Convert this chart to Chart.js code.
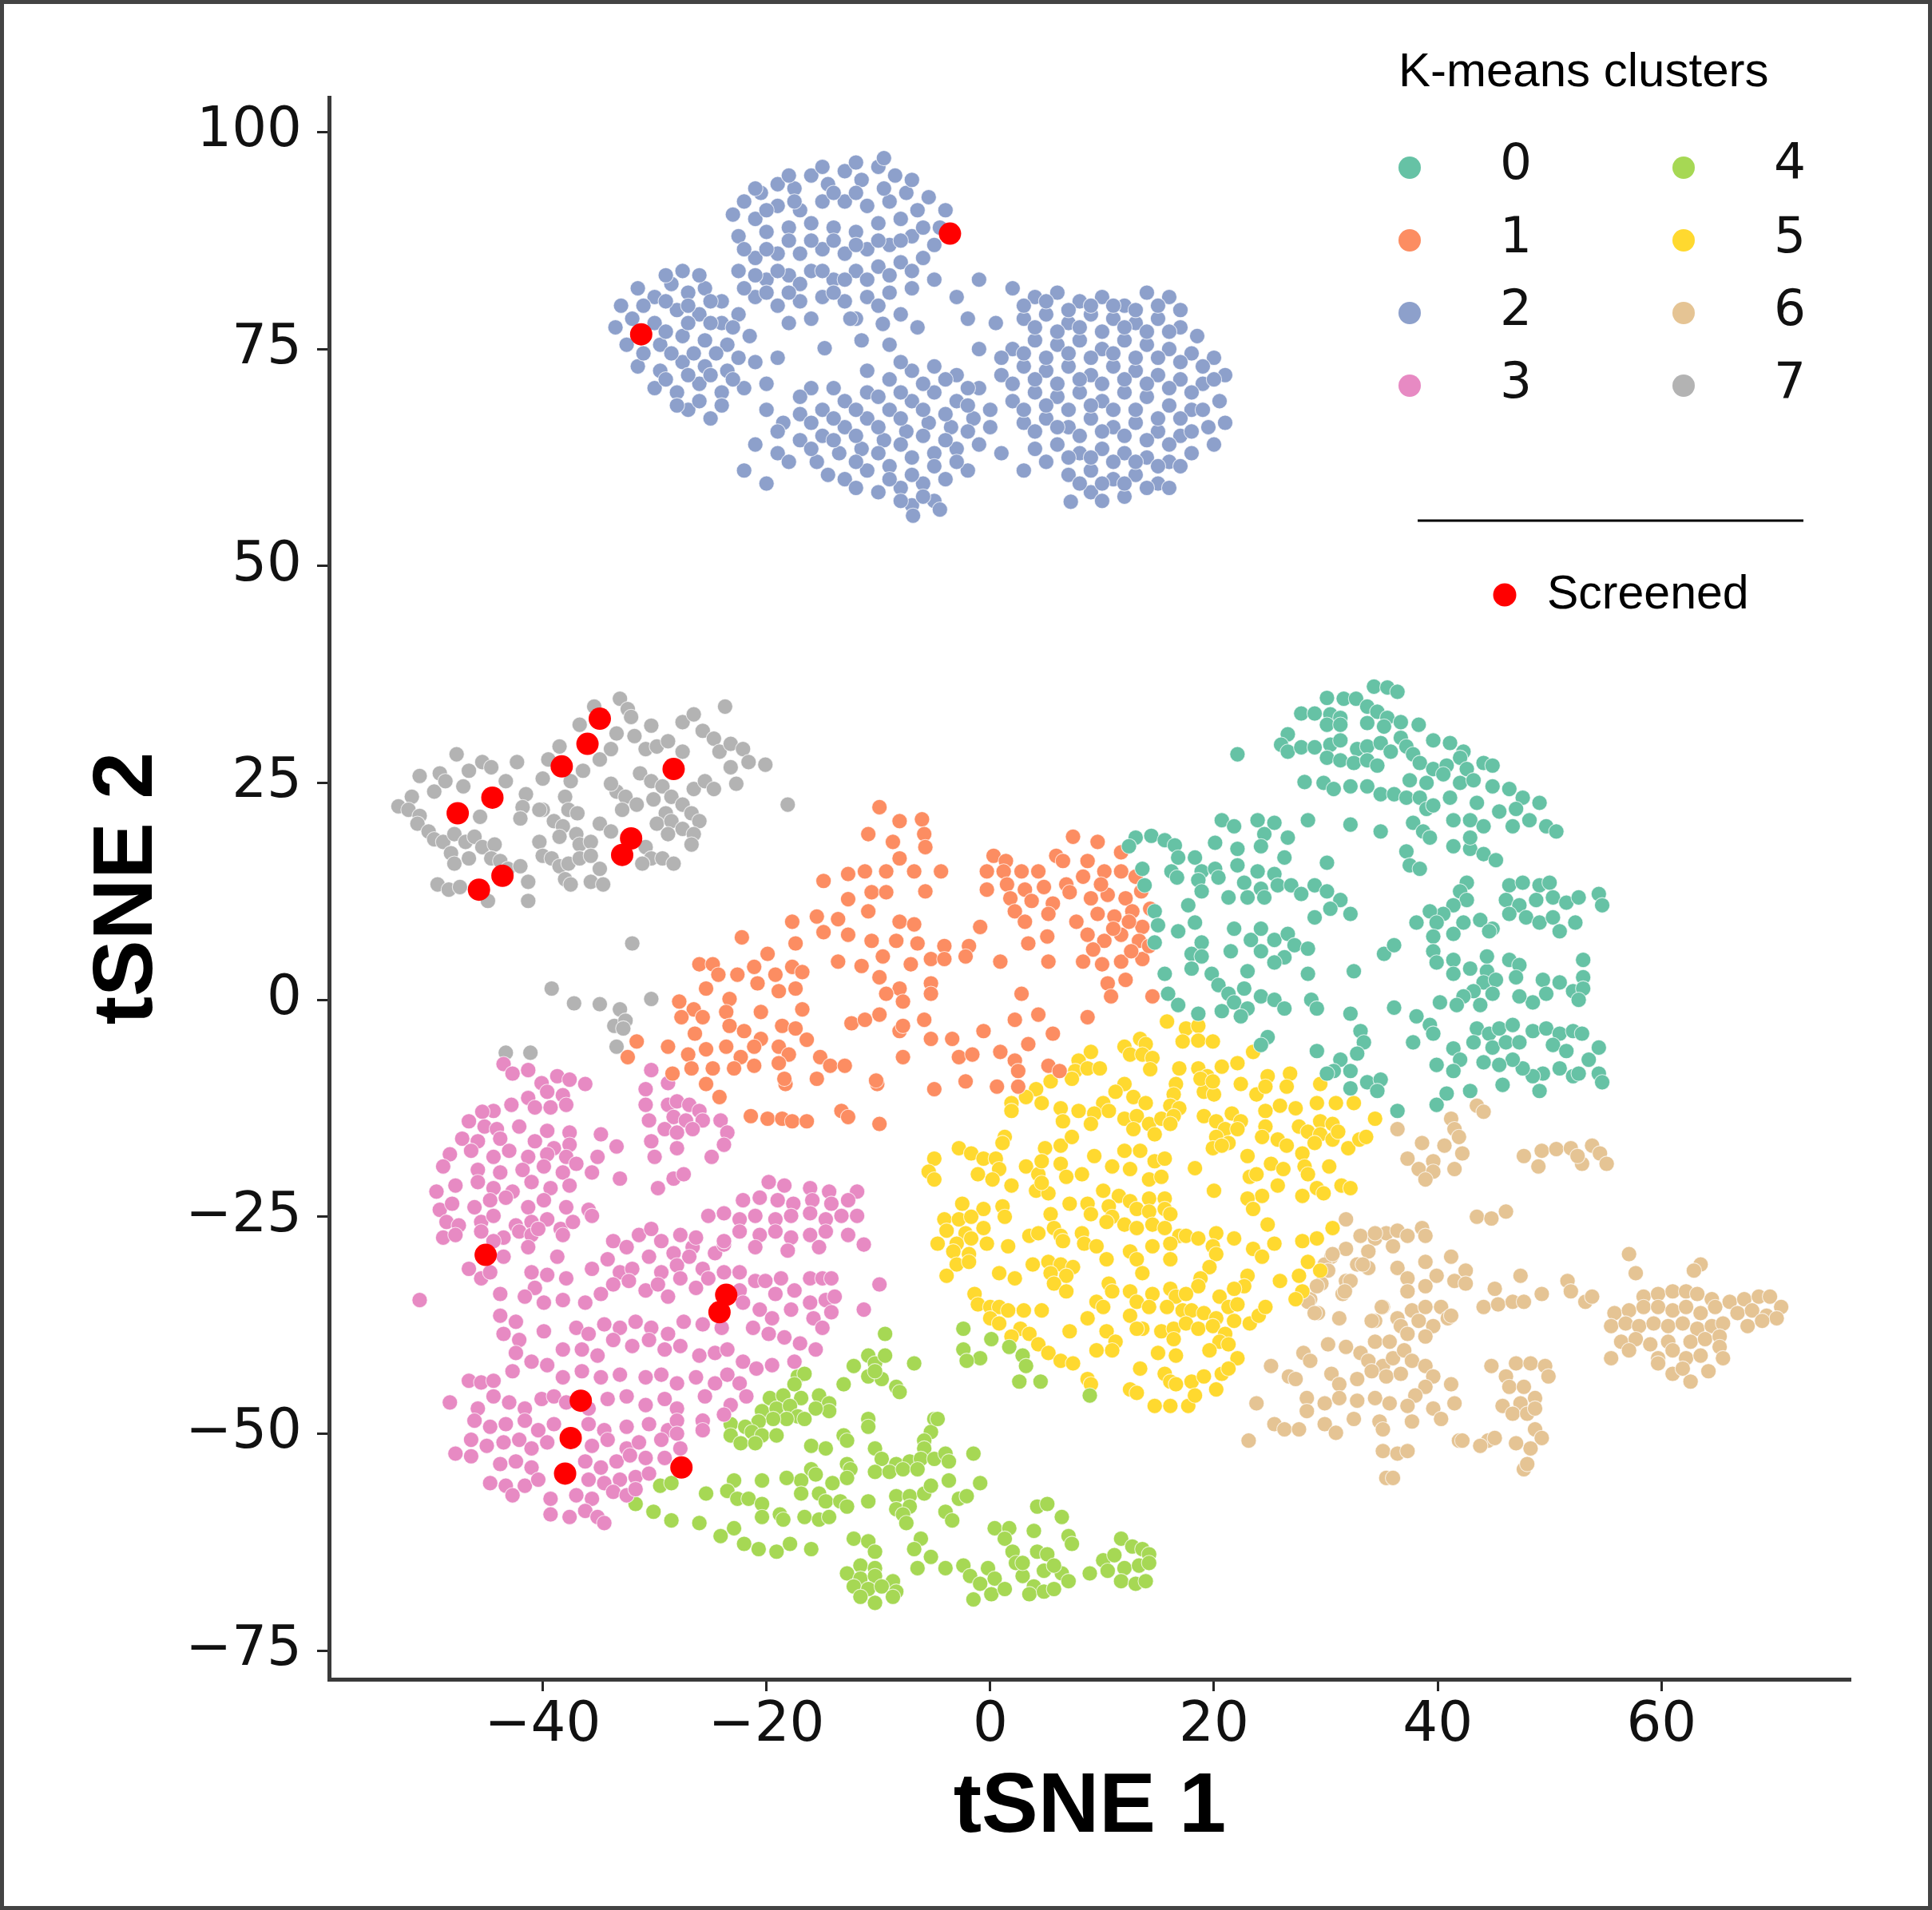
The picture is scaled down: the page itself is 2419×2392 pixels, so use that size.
<!DOCTYPE html>
<html>
<head>
<meta charset="utf-8">
<script src="https://cdn.jsdelivr.net/npm/chart.js@4.4.0/dist/chart.umd.min.js"></script>
<style>
  html, body { margin: 0; padding: 0; background: #fff; }
  canvas { display: block; }
</style>
</head>
<body>
<canvas id="tsneChart" width="2419" height="2392" style="width:2419px;height:2392px"></canvas>
<script>
// K-means cluster labels, tick values and axis limits
const clusterNames = ['0', '1', '2', '3', '4', '5', '6', '7'];
const xTicks = [-40, -20, 0, 20, 40, 60];
const yTicks = [-75, -50, -25, 0, 25, 50, 75, 100];
const xLimits = [-59.1, 76.9];
const yLimits = [-78.3, 104.0];

// tSNE coordinates per cluster, [tSNE 1, tSNE 2]
const cluster0 = [
  [34.3,36.1],[35.5,36.0],[36.4,35.5],[30.1,34.8],[31.6,34.7],[32.7,34.7],[27.8,33.0],[29.0,33.0],[30.4,32.9],[31.3,32.5],
  [33.7,33.8],[34.6,33.2],[35.5,32.5],[33.7,31.9],[35.2,31.5],[36.7,32.0],[38.3,31.7],[30.1,31.7],[31.3,31.7],[26.6,30.6],
  [26.0,29.4],[26.6,28.6],[27.8,29.1],[29.0,29.1],[30.4,29.4],[31.3,29.9],[32.8,28.9],[33.7,29.2],[34.9,29.6],[35.8,28.6],
  [36.7,30.2],[37.2,29.2],[37.8,28.3],[39.6,29.9],[41.1,29.6],[42.3,28.6],[22.1,28.3],[30.1,27.9],[31.3,27.6],[32.5,27.3],
  [33.7,27.6],[34.6,27.0],[38.4,27.3],[39.6,26.6],[40.8,27.0],[42.0,27.9],[42.6,26.6],[44.1,27.3],[44.9,27.0],[28.1,25.1],
  [29.8,25.0],[30.7,24.3],[32.2,24.6],[33.7,24.6],[34.9,23.7],[36.1,23.7],[37.5,25.3],[39.0,25.0],[40.5,26.0],[42.0,25.0],
  [43.2,25.3],[44.9,24.6],[46.4,24.3],[47.6,23.3],[49.1,22.7],[37.2,23.3],[38.4,23.3],[39.0,22.0],[39.6,22.4],[41.1,23.3],
  [43.5,22.7],[45.5,21.7],[47.0,22.0],[48.2,20.7],[37.8,20.4],[38.7,19.4],[39.3,18.7],[41.4,20.7],[42.9,20.7],[44.1,20.0],
  [46.7,20.0],[49.7,20.0],[50.6,19.4],[37.2,17.1],[37.5,15.5],[38.4,15.1],[41.4,17.7],[42.9,17.4],[42.9,18.7],[44.1,16.8],
  [45.2,16.1],[42.6,13.5],[42.0,12.5],[42.6,11.5],[41.4,10.9],[46.4,13.2],[47.6,13.5],[49.1,13.2],[50.0,13.5],[46.1,11.5],
  [47.3,10.9],[48.8,11.5],[50.3,11.8],[51.5,11.2],[52.6,11.8],[54.4,12.2],[54.7,10.9],[47.9,9.5],[49.1,8.9],[50.3,9.5],
  [50.9,7.9],[52.3,8.9],[46.4,9.9],[44.9,8.2],[43.8,9.2],[44.6,7.9],[42.3,8.9],[41.4,7.6],[40.5,9.9],[39.3,10.2],
  [38.1,8.9],[39.9,8.9],
  [13.0,18.7],[14.4,18.9],[15.6,18.4],[16.5,17.8],[16.8,16.4],[12.4,17.7],[13.6,15.1],[13.8,13.2],[16.2,14.8],[16.7,14.1],
  [20.7,20.7],[21.8,20.0],[20.1,18.1],[22.1,17.4],[22.1,15.5],[23.9,20.7],[25.4,20.4],[26.6,18.7],[24.5,19.1],[24.2,17.7],
  [26.3,16.4],[28.4,20.7],[32.2,20.2],[34.9,19.4],[30.1,15.8],[18.3,16.4],[18.9,14.8],[20.1,15.1],[18.6,13.8],[20.4,14.1],
  [18.9,12.5],[21.3,11.8],[22.7,13.5],[23.9,14.8],[25.4,14.5],[24.2,12.8],[23.0,11.8],[24.5,11.8],[25.7,13.2],[26.9,13.2],
  [27.8,12.2],[29.0,13.2],[30.1,12.5],[31.3,11.5],[32.2,9.9],[30.4,10.5],[29.0,9.5],[14.7,10.2],[15.0,8.6],[14.7,6.6],
  [17.7,10.9],[16.8,7.9],[18.3,8.9],[18.0,5.3],[18.9,6.6],[18.9,5.0],[18.0,3.6],[19.8,3.0],[20.4,1.7],[21.3,0.7],
  [21.8,8.2],[21.5,5.6],[23.3,6.9],[24.2,8.2],[25.4,6.9],[26.6,7.6],[27.2,6.3],[24.2,5.6],[26.3,4.9],[25.4,4.3],
  [28.4,5.9],[28.4,3.0],[32.5,3.3],[35.2,5.3],[36.1,6.3],[23.0,3.3],[22.7,1.3],[21.8,-0.3],[24.2,0.4],[23.0,-1.0],
  [25.4,0.0],[26.3,-1.0],[20.7,-1.3],[22.4,-1.9],[15.9,0.7],[16.8,-0.6],[18.6,-1.6],[15.6,3.0],[28.7,0.0],[29.2,-1.0],
  [39.6,7.3],[39.6,5.6],[39.9,4.3],[41.4,4.6],[41.4,3.0],[42.9,3.6],[44.4,3.3],[44.4,5.0],[46.4,4.6],[47.3,4.0],
  [47.0,2.6],[44.1,2.0],[45.2,2.3],[43.2,1.0],[44.9,0.7],[42.3,0.4],[41.7,-0.6],[43.8,-0.6],[49.4,2.3],[50.9,2.0],
  [52.1,1.0],[53.0,4.6],[53.0,2.6],[53.0,1.3],[52.6,0.0],[49.7,0.7],[48.5,-0.3],[47.3,0.4],[40.2,-0.3],[38.1,-1.9],
  [39.3,-2.9],[39.6,-3.9],[37.8,-4.9],[43.5,-3.3],[44.6,-3.9],[45.5,-3.3],[46.7,-2.9],[43.2,-4.9],[44.9,-5.5],[46.1,-4.9],
  [47.3,-4.9],[48.5,-3.6],[49.7,-3.3],[50.9,-3.9],[52.1,-3.6],[52.9,-3.9],[50.3,-5.2],[51.5,-5.9],[54.4,-5.5],[53.5,-6.9],
  [50.9,-7.9],[52.1,-8.8],[49.4,-8.5],[48.5,-8.8],[49.1,-10.5],[54.4,-8.5],[54.7,-9.5],[52.6,-8.5],[47.6,-7.9],[46.7,-6.9],
  [41.4,-5.6],[42.0,-6.9],[39.9,-7.5],[41.4,-8.2],[44.1,-7.2],[45.5,-7.5],[45.8,-9.8],[42.9,-10.5],[40.8,-10.8],[39.9,-12.1],
  [32.2,-1.6],[33.1,-3.6],[33.4,-4.9],[32.8,-6.2],[31.3,-6.9],[30.7,-8.2],[32.2,-8.2],[33.7,-9.5],[34.9,-9.2],[34.6,-10.5],
  [32.2,-10.2],[29.2,-5.9],[30.1,-8.5],[36.4,-12.8],[24.8,-4.3],[24.2,-5.2],[36.1,-0.9]
];

const cluster1 = [
  [-9.9,22.2],[-8.1,20.6],[-6.1,20.8],[-5.9,19.1],[-5.8,17.6],[-10.9,19.1],[-8.7,18.2],[-8.1,16.3],[-14.9,13.7],[-12.7,14.5],
  [-11.2,14.8],[-9.3,14.8],[-6.8,14.8],[-4.4,14.8],[-5.8,12.5],[-12.7,11.6],[-10.6,12.4],[-9.3,12.4],[-10.9,10.2],[-17.7,9.0],
  [-15.5,9.6],[-13.6,9.3],[-17.4,6.5],[-14.9,7.8],[-12.7,7.5],[-10.6,6.8],[-8.4,6.8],[-6.5,6.5],[-4.1,6.2],[-1.9,6.2],
  [-8.1,9.0],[-6.8,8.7],[-0.9,8.4],[-13.6,4.4],[-11.5,3.9],[-9.6,5.0],[-7.1,4.1],[-5.3,4.7],[-4.1,4.7],[-2.2,5.0],
  [0.9,4.4],[5.2,4.4],[3.4,6.5],[5.1,7.3],[-9.9,2.6],[-8.1,1.3],[-9.3,0.7],[-7.8,-0.2],[-5.3,1.9],[-5.3,0.7],
  [-26.0,4.1],[-24.8,4.1],[-24.3,2.9],[-22.6,2.9],[-21.1,3.8],[-19.9,5.3],[-19.2,2.9],[-17.7,3.8],[-16.8,3.2],[-22.2,7.2],
  [-25.4,1.3],[-23.3,0.1],[-20.8,1.9],[-18.9,1.0],[-17.4,1.3],[-27.8,-0.2],[-26.5,-1.1],[-23.6,-1.4],[-20.5,-1.4],[-16.8,-1.1],
  [-27.6,-2.0],[-25.7,-2.0],[-26.4,-3.9],[-23.3,-3.0],[-22.0,-3.6],[-20.5,-4.5],[-18.6,-3.0],[-17.4,-3.3],[-16.4,-4.6],[-31.6,-4.8],
  [-28.8,-5.4],[-27.0,-6.3],[-25.4,-5.7],[-23.6,-5.4],[-22.3,-6.6],[-21.1,-5.4],[-18.9,-5.4],[-18.0,-6.3],[-32.4,-6.6],[-26.7,-7.9],
  [-24.8,-7.9],[-22.9,-7.9],[-21.1,-7.6],[-18.9,-7.3],[-28.4,-8.5],[-25.4,-9.7],[-24.2,-11.2],[-18.3,-9.7],[-15.5,-9.1],[-15.2,-6.6],
  [-14.3,-7.6],[-13.0,-7.6],[-21.4,-13.4],[-19.9,-13.7],[-18.6,-13.7],[-17.7,-14.0],[-16.4,-14.0],[-13.3,-12.8],[-12.7,-13.5],[-9.9,-14.3],
  [-10.1,-9.7],[-12.4,-2.7],[-11.2,-2.3],[-9.9,-1.7],[-8.1,-3.6],[-7.8,-3.0],[-5.9,-2.3],[-5.3,-4.5],[-3.4,-4.5],[-7.8,-6.6],
  [-2.8,-6.6],[-1.6,-6.3],[-0.6,-3.6],[-5.0,-10.3],[-2.2,-9.4],[0.6,-10.0],[2.5,-10.0],[0.9,-6.0],[2.2,-7.0],[2.5,-8.2],
  [2.8,0.7],[2.2,-2.3],[4.3,-1.7],[3.4,-5.1],[5.6,-3.9],[5.2,-7.6],[6.2,-8.2],[8.7,-2.0],[-18.4,-9.1],[-10.2,-9.3],
  [7.4,18.8],[9.6,18.2],[0.3,16.6],[1.4,16.0],[5.9,16.6],[6.5,16.0],[8.7,16.0],[-0.3,14.8],[1.2,14.8],[2.8,14.8],
  [4.3,14.8],[-0.3,12.7],[1.5,13.3],[3.1,12.7],[4.8,13.0],[6.8,13.3],[8.3,14.2],[10.2,14.8],[11.7,14.8],[13.0,14.2],
  [1.8,11.7],[3.7,11.4],[5.6,11.1],[7.1,12.4],[9.0,11.7],[10.5,12.1],[12.1,11.7],[2.2,10.2],[3.1,9.0],[5.2,9.9],
  [7.7,9.0],[9.6,9.9],[11.1,9.6],[12.7,10.2],[13.6,8.4],[8.7,7.5],[10.2,6.8],[11.7,7.5],[13.3,6.8],[8.3,4.4],
  [10.0,4.1],[11.7,4.4],[13.6,4.7],[10.5,1.9],[12.1,2.3],[10.8,0.4],[14.5,0.4],[11.7,17.0],[13.5,12.5],[14.3,10.5],
  [9.2,5.8],[12.6,5.6],[11.0,8.2],[12.4,9.0],[9.9,13.3],[14.2,6.2]
];

const cluster2 = [
  [-22,92],[-20.5,93],[-19,94],[-17.5,93.5],[-16,95],[-14.5,94],[-13,95.5],[-11.5,94.5],[-10,96],[-8.5,95],
  [-7.5,93],[-9,92],[-11,91.5],[-13,92],[-15,92],[-17,91],[-19,91.5],[-21,90],[-22.5,88],[-20,88.5],
  [-18,89],[-16,89.5],[-14,89],[-12,88.5],[-10,89.5],[-8,90],[-6.5,91],[-7,88],[-9,87],[-11,86.5],
  [-13,86],[-15,86.5],[-17,86],[-19,86],[-21,85.5],[-22.5,84],[-20,83],[-18,83.5],[-16,84],[-14,83],
  [-12,84],[-10,84.5],[-8,85],[-6,85.5],[-5,83],[-7,82],[-9,81.5],[-11,81],[-13,80.5],[-15,81],
  [-17,80.5],[-19,80],[-21,81],[-16,78.5],[-18,78],[-12,78.5],[-4.5,89],[-4,91],[-5,87],[-8,79],
  [-6.5,77.5],[-3,81],[-2,78.5],[-9,75.5],[-11.5,76],
  [-21,93.5],[-18,95],[-15,96],[-12,96.5],[-9.5,97],[-20,91],[-17.5,92],[-14,93],[-12,93],[-9.5,93.5],
  [-7,94.5],[-22,86.5],[-20,86.5],[-18,87.5],[-16,87.5],[-14,87.5],[-12,87],[-10,87.5],[-8,87.5],[-6,89],
  [-21,83.5],[-19,84],[-17,82.5],[-15,84],[-13,83],[-11,83],[-9,83.5],[-7,84],[-20,81.5],[-18,81.5],
  [-14,81.5],[-10,80],[-22,82],[-23,90.5],[-5.5,92.5],
  [-33,80],[-31.5,82],[-30,81],[-28.5,82.5],[-27,81.5],[-25.5,82],[-24,80.5],[-32,78.5],[-30,78],[-28,79.5],
  [-26,79],[-24,78],[-22.5,79],[-32.5,75.5],[-29.5,75.5],[-27.5,76.5],[-25.5,76],[-23.5,75.5],[-21.5,76.5],[-31.5,73],
  [-29.5,72.5],[-27.5,73.5],[-25.5,73],[-23.5,72.5],[-21,73.5],[-30,70.5],[-28,70],[-26,71],[-24,70],[-22,70.5],
  [-27,68],[-25,67],[-20,71],[-19,74],[-27.5,84],
  [-31,80],[-29,80.5],[-27,80],[-25,80.5],[-31,76.5],[-29,77],[-27,78],[-25,78],[-23,77.5],[-31,74.5],
  [-28.5,74.5],[-26.5,74.5],[-24.5,74.5],[-22.5,74],[-29,71.5],[-27,72],[-25,72],[-23,71.5],[-26,69],[-28,68.5],
  [-24,68.5],[-33.5,77.5],[-26,83.5],[-29,83.5],
  [-20,68],[-18.5,66.5],[-17,67.5],[-15,68],[-13,69],[-11,70],[-9,71.5],[-7,72.5],[-5,73],[-3,72],
  [-21,64],[-19,63],[-17,64.5],[-15,65],[-13,66],[-11,67],[-9,68],[-7,69],[-5,70],[-3,69],
  [-1,70.5],[-15.5,62],[-13.5,63],[-11.5,63.5],[-9.5,64.5],[-7.5,65.5],[-5.5,66.5],[-3.5,66],[-1.5,67],[-13,60],
  [-11,61],[-9,61.5],[-7,62.5],[-5,63],[-3,63.5],[-1,64],[-10,58.5],[-8,59],[-6,59.5],[-4,60],
  [-7,57],[-5,57.5],[-2,61],[-22,61],[-20,59.5],[0,66],[1,63],[-16,70.5],[-6.9,55.8],[-4.5,56.5],
  [-14.8,75.1],[-12.5,78.5],[-9.6,77.9],
  [-19,65.5],[-16,66.5],[-14,67],[-12,68],[-10,69.5],[-8,70],[-6,71],[-4,71.5],[-2,70.5],[-18,62],
  [-16,63.5],[-14,64.5],[-12,65],[-10,66],[-8,67],[-6,68],[-4,67.5],[-2,68.5],[0,68],[-14.5,60.5],
  [-12,62],[-10,63],[-8,64],[-6,65],[-4,64.5],[-2,65.5],[-12,59],[-9,60],[-7,60.5],[-5,61.5],
  [-3,62],[-8,57.5],[-6,58],[-17,69.5],[-14,70.5],[-11,72.5],[-8,73.5],
  [2,82],[4,81],[6,81.5],[8,80.5],[10,81],[12,80],[14,81.5],[16,81],[3,78.5],[5,79],
  [7,78],[9,79],[11,78.5],[13,78],[15,78.5],[17,77.5],[18.5,76.5],[2,75],[4,76],[6,75.5],
  [8,76],[10,75],[12,76],[14,75.5],[16,75],[18,74.5],[20,74],[21,72],[1,72],[3,73],
  [5,72.5],[7,73],[9,72],[11,73],[13,72.5],[15,72],[17,71.5],[19,71],[20.5,69],[2,69],
  [4,70],[6,69.5],[8,70],[10,69],[12,70],[14,69.5],[16,68.5],[18,68],[19.5,66],[3,66.5],
  [5,67],[7,66],[9,67],[11,66],[13,66.5],[15,65.5],[17,65],[4,63.5],[6,64],[8,63],
  [10,63.5],[12,63],[14,62.5],[16,62],[18,63],[7,60.5],[9,61],[11,60],[13,60.5],[15,59.5],
  [9,58.5],[12,58],[20,64],[21,66.5],[3,61],[-1,75],[0.5,78],[16,59],[7.2,57.4],[-1,83],
  [3,80],[5,80.5],[7,79.5],[9,80],[11,80],[13,79.5],[15,80],[17,79.5],[4,77.5],[6,77],
  [8,77.5],[10,77],[12,77.5],[14,77],[16,77],[1,74],[3,74.5],[5,74],[7,74.5],[9,74],
  [11,74.5],[13,74],[15,74],[17,73.5],[19,73],[2,71],[4,71.5],[6,71],[8,71.5],[10,71],
  [12,71.5],[14,71],[16,70.5],[18,70],[20,71.5],[3,68],[5,68.5],[7,68],[9,68.5],[11,68],
  [13,68],[15,67],[17,67],[19,68],[4,65.5],[6,66],[8,65],[10,65.5],[12,65],[14,64.5],
  [16,64],[18,65.5],[5,62],[7,62.5],[9,62.5],[11,62],[13,62],[15,61.5],[17,61.5],[8,59.5],
  [10,59.5],[12,59.5],[14,59],[10,57.5]
];

const cluster3 = [
  [-43.5,-7.4],[-42.7,-8.5],[-41.3,-8.1],[-40.1,-9.6],[-38.7,-8.8],[-37.6,-9.2],[-36.2,-9.7],
  [-39.6,-10.6],[-38.2,-11.0],[-41.3,-11.3],[-42.8,-12.1],[-44.4,-12.8],[-45.4,-12.9],[-40.7,-12.4],[-39.3,-12.4],[-37.9,-12.1],
  [-46.6,-14.0],[-45.2,-14.6],[-44.1,-14.9],[-42.1,-14.6],[-39.6,-15.1],[-37.6,-15.3],
  [-47.2,-16.0],[-45.8,-16.3],[-43.8,-16.0],[-40.7,-16.3],[-39.0,-17.1],[-37.6,-16.7],[-34.8,-15.5],[-33.4,-16.9],
  [-48.3,-17.8],[-46.4,-17.4],[-44.4,-18.1],[-43.0,-17.4],[-41.3,-18.1],[-39.6,-17.8],[-37.9,-18.1],[-35.1,-18.1],
  [-48.9,-19.2],[-45.8,-19.6],[-43.8,-19.9],[-41.8,-19.6],[-39.9,-19.2],[-38.2,-19.9],[-37.0,-18.9],[-35.6,-19.9],
  [-49.5,-22.1],[-47.8,-21.4],[-45.8,-21.0],[-44.4,-21.7],[-42.7,-22.1],[-41.0,-21.0],[-39.3,-21.7],[-37.6,-21.4],[-33.1,-20.6],
  [-49.2,-24.2],[-48.1,-23.5],[-46.1,-23.9],[-44.7,-23.1],[-43.3,-22.8],[-41.3,-23.9],[-39.9,-23.1],[-37.9,-23.9],[-35.9,-24.2],
  [-48.6,-25.6],[-47.5,-26.0],[-45.5,-25.6],[-44.4,-24.9],[-42.4,-26.0],[-41.0,-25.6],[-39.6,-25.3],[-38.4,-26.4],[-37.3,-25.6],
  [-48.9,-27.4],[-47.8,-27.1],[-45.5,-26.7],[-43.5,-27.4],[-42.1,-26.7],[-41.0,-27.1],[-40.4,-26.4],[-38.2,-27.1],[-35.6,-24.9],
  [-44.4,-27.8],[-43.5,-29.6],[-41.3,-28.5],[-46.6,-31.0],[-45.5,-32.1],[-44.7,-31.4],[-51.0,-34.6],[-43.8,-33.9],
  [-41.0,-31.4],[-39.6,-31.7],[-37.9,-32.1],[-38.7,-29.6],[-40.7,-33.2],[-41.6,-34.2],[-39.9,-34.9],[-38.2,-34.6],[-35.6,-31.0],[-36.2,-34.9],[-34.8,-33.9],
  [-30.3,-8.1],[-28.8,-9.6],[-30.8,-10.3],[-30.8,-12.1],[-30.5,-13.9],[-28.8,-12.1],[-28.0,-11.7],[-26.9,-12.1],[-26.0,-12.8],[-28.3,-13.5],
  [-27.2,-13.9],[-25.7,-13.9],[-24.1,-13.9],[-29.1,-14.9],[-28.0,-15.3],[-26.6,-14.9],[-23.5,-15.3],[-23.8,-16.7],[-30.3,-16.3],[-28.0,-17.1],
  [-30.0,-18.1],[-24.9,-18.1],[-29.7,-21.7],[-28.3,-20.6],[-27.4,-20.1],
  [-33.7,-27.8],[-32.5,-28.5],[-31.4,-27.1],[-30.3,-26.4],[-29.4,-27.8],[-28.3,-29.2],[-26.6,-28.5],
  [-34.2,-29.9],[-33.1,-31.4],[-32.0,-31.0],[-30.5,-29.6],[-29.4,-31.4],[-28.0,-30.6],[-26.9,-29.6],[-25.7,-31.0],[-24.6,-29.2],[-23.8,-28.2],[-27.7,-27.1],[-26.3,-27.4],
  [-33.7,-32.8],[-32.3,-32.4],[-30.8,-33.5],[-29.7,-32.8],[-28.8,-34.2],[-27.7,-32.1],[-26.3,-33.2],[-25.2,-32.1],[-23.8,-31.4],[-22.4,-31.4],
  [-21.0,-32.4],[-20.1,-32.4],[-18.7,-32.1],[-17.5,-33.5],[-16.1,-32.1],[-15.0,-32.1],[-14.2,-32.1],
  [-19.8,-21.0],[-18.4,-21.4],[-16.1,-21.7],[-14.4,-22.1],[-11.9,-22.1],
  [-22.1,-23.1],[-20.6,-22.8],[-19.0,-23.1],[-17.6,-23.5],[-15.9,-23.1],[-14.2,-23.5],[-12.7,-23.1],
  [-25.2,-24.9],[-23.8,-24.6],[-22.4,-25.3],[-21.0,-24.9],[-19.2,-25.3],[-17.8,-24.9],[-16.1,-24.6],[-14.7,-25.3],[-13.3,-24.9],[-11.9,-24.9],
  [-22.4,-26.7],[-20.6,-27.1],[-19.2,-26.7],[-17.8,-27.4],[-16.1,-27.1],[-14.7,-26.7],[-12.7,-27.1],[-11.3,-28.2],
  [-21.0,-28.5],[-18.1,-28.9],[-15.3,-28.5],[-23.8,-27.8],
  [-19.2,-33.9],[-17.8,-35.7],[-16.1,-34.9],[-14.7,-34.6],[-13.9,-34.2],[-15.8,-36.7],[-14.2,-36.0],[-15.0,-37.8],[-11.3,-35.7],[-9.9,-32.8],
  [-22.4,-33.5],[-22.1,-34.9],[-20.6,-35.7],[-19.5,-36.7],[-21.2,-37.8],[-19.8,-38.5],[-18.4,-38.9],[-17.0,-39.6],[-15.6,-40.3],
  [-37.0,-37.8],[-35.9,-38.5],[-34.5,-37.4],[-33.1,-37.8],[-31.7,-37.1],[-30.3,-37.8],[-28.8,-38.5],[-27.4,-37.1],[-25.7,-37.4],[-24.0,-37.8],
  [-43.8,-36.4],[-42.4,-37.1],[-43.5,-38.5],[-42.1,-39.2],[-42.4,-40.7],[-39.9,-38.2],[-38.2,-40.3],
  [-36.5,-40.3],[-35.1,-41.0],[-33.7,-39.2],[-32.0,-39.9],[-30.5,-39.2],[-29.1,-40.3],[-27.7,-39.9],[-26.0,-41.0],[-24.6,-40.7],
  [-23.5,-40.3],[-22.1,-41.7],[-20.9,-42.5],[-19.5,-42.1],[-17.5,-41.7],
  [-46.6,-43.9],[-45.5,-44.1],[-44.4,-43.9],[-42.7,-42.8],[-41.0,-41.7],[-39.6,-42.1],[-38.2,-43.5],[-36.5,-42.8],[-34.8,-43.5],
  [-33.1,-43.2],[-30.8,-43.5],[-29.4,-43.2],[-28.0,-44.2],[-26.3,-43.5],[-24.6,-44.2],[-23.5,-43.2],[-22.4,-44.2],
  [-48.3,-46.4],[-45.8,-47.1],[-44.4,-45.7],[-43.0,-46.4],[-41.6,-47.1],[-40.1,-46.0],[-39.0,-45.7],[-37.9,-46.4],[-35.9,-47.1],
  [-34.2,-46.0],[-32.5,-45.7],[-30.8,-46.7],[-29.1,-46.0],[-28.0,-47.1],[-25.5,-45.7],[-23.2,-46.7],[-21.8,-45.7],
  [-46.1,-48.5],[-44.7,-49.2],[-43.3,-48.9],[-41.6,-48.5],[-40.4,-49.6],[-39.0,-48.9],[-35.9,-48.9],[-34.5,-49.6],[-32.5,-49.2],
  [-30.5,-48.9],[-28.8,-49.6],[-28.0,-48.5],[-25.7,-48.5],[-23.8,-47.8],
  [-46.4,-50.7],[-45.0,-51.4],[-43.5,-51.0],[-42.1,-50.7],[-41.0,-51.7],[-39.6,-51.0],[-35.6,-51.4],[-34.2,-50.7],[-32.5,-51.7],
  [-31.4,-51.0],[-29.4,-50.7],[-28.0,-50.0],[-25.7,-49.6],
  [-47.8,-52.3],[-46.4,-52.6],[-43.8,-53.5],[-42.4,-53.2],[-41.0,-53.9],[-36.2,-53.2],[-34.8,-53.9],[-33.4,-53.2],[-32.2,-52.5],
  [-30.8,-52.8],[-29.1,-52.8],[-27.7,-51.7],
  [-44.7,-55.7],[-43.3,-56.0],[-41.6,-56.0],[-40.4,-55.3],[-35.9,-55.3],[-34.5,-55.7],[-33.1,-55.3],[-31.7,-55.0],[-30.5,-54.6],
  [-42.7,-57.1],[-39.3,-57.5],[-37.0,-57.1],[-35.6,-57.5],[-33.7,-56.7],[-32.5,-57.1],[-31.7,-56.4],
  [-39.3,-59.3],[-37.6,-59.6],[-36.2,-58.9],[-35.1,-59.6],[-34.5,-60.3]
];

const cluster4 = [
  [-17.2,-43.4],[-16.6,-43.1],[-17.5,-44.3],[-19.7,-45.9],[-18.5,-45.6],[-16.9,-45.9],[-15.3,-45.6],[-14.4,-46.5],[-14.4,-47.4],[-15.6,-47.1],
  [-20.4,-47.4],[-19.1,-47.1],[-17.9,-46.8],[-17.2,-48.0],[-18.2,-48.3],[-19.4,-48.3],[-20.7,-48.6],[-16.6,-48.3],[-23.2,-48.9],[-21.9,-49.2],
  [-23.2,-50.2],[-21.3,-49.8],[-20.4,-50.2],[-19.1,-50.2],[-22.3,-51.1],[-21.0,-51.1],
  [-13.1,-44.3],[-12.2,-42.2],[-10.9,-41.0],[-10.3,-41.9],[-10.9,-43.4],[-9.7,-43.7],[-10.3,-42.8],[-9.4,-41.0],[-9.4,-38.5],[-8.4,-44.6],
  [-8.1,-45.2],[-6.8,-41.9],
  [-10.9,-48.3],[-10.9,-49.2],[-13.1,-50.2],[-12.8,-50.8],[-16.0,-51.4],[-14.7,-51.7],[-5.0,-48.3],[-5.3,-49.8],[-5.9,-50.8],[-5.9,-51.7],
  [-10.3,-51.7],[-9.7,-52.9],[-8.4,-53.5],[-7.2,-53.2],[-6.2,-52.9],[-5.0,-52.9],[-4.0,-52.3],[-3.7,-53.2],[-1.5,-52.3],[-10.3,-54.4],
  [-9.0,-54.4],[-7.8,-54.1],[-6.5,-54.1],
  [-12.8,-53.5],[-12.5,-54.1],[-12.8,-55.1],[-16.0,-54.1],[-15.6,-54.7],[-14.1,-55.7],[-16.9,-55.4],[-18.2,-55.1],[-20.4,-55.4],[-22.9,-55.4],
  [-16.9,-56.9],[-15.3,-56.9],[-14.7,-57.8],[-13.4,-57.8],[-12.8,-58.4],[-10.9,-57.8],[-8.4,-57.2],[-7.2,-57.2],[-5.9,-56.9],[-5.3,-56.0],
  [-3.7,-55.4],[-0.9,-55.7],
  [-8.4,-58.7],[-7.2,-58.4],[-7.8,-59.3],[-7.5,-60.3],[-4.0,-59.0],[-3.4,-60.0],[-2.8,-57.5],[-2.1,-57.2],
  [-25.4,-56.9],[-23.5,-56.6],[-22.6,-57.5],[-21.6,-57.5],[-20.4,-58.1],[-18.8,-59.3],[-20.4,-59.6],[-18.5,-59.9],[-16.6,-59.6],[-15.3,-59.9],
  [-14.4,-59.6],
  [-29.5,-56.0],[-28.5,-55.7],[-31.7,-58.1],[-30.1,-59.0],[-28.5,-60.0],[-26.0,-60.3],
  [-24.1,-61.8],[-22.9,-60.9],[-22.0,-62.7],[-20.7,-63.3],[-19.1,-63.6],[-17.9,-62.7],[-16.0,-63.3],
  [-12.2,-62.1],[-10.9,-62.4],[-10.3,-63.6],[-11.6,-65.2],[-10.3,-65.5],[-12.8,-66.1],[-11.6,-66.7],[-10.3,-66.4],[-8.7,-67.0],[-12.2,-67.6],
  [-10.9,-67.9],[-9.7,-67.6],[-8.4,-68.2],[-11.6,-68.8],[-10.3,-69.5],[-8.7,-68.8],
  [-6.2,-62.1],[-6.8,-63.3],[-5.3,-64.2],[-4.0,-65.5],[-2.4,-65.2],[-6.5,-65.5],[-1.8,-66.4],
  [0.4,-60.9],[1.7,-60.9],[1.3,-62.1],[2.0,-63.6],[2.3,-64.9],[-0.2,-65.5],[0.4,-66.7],[-0.9,-67.3],[-1.5,-69.1],[0.1,-68.5],
  [1.3,-67.9],[2.9,-66.4],[3.9,-67.6],[3.5,-68.5],[4.8,-68.2],[5.7,-67.9],
  [4.2,-58.4],[5.1,-58.1],[6.4,-59.6],[3.9,-61.2],[4.2,-63.6],[5.1,-63.9],[7.0,-61.8],[7.3,-62.7],[4.8,-65.8],[6.4,-66.1],
  [7.0,-67.0],[5.7,-65.2],[2.9,-64.9],
  [8.9,-66.1],[10.1,-64.6],[11.1,-64.0],[11.7,-62.1],[12.7,-63.0],[13.6,-63.3],[14.2,-63.9],[10.5,-65.8],[12.0,-65.5],[13.3,-65.2],
  [14.2,-64.9],[11.7,-67.0],[13.0,-67.3],[13.9,-67.0],
  [-2.4,-37.9],[-2.4,-40.3],[-0.9,-41.3],[0.1,-39.1],[1.7,-40.0],[2.9,-41.0],[3.2,-42.2],[2.6,-44.0],[4.5,-44.0],[8.9,-45.6],
  [-2.1,-41.6],[-4.7,-48.3]
];

const cluster5 = [
  [15.8,-2.5],[17.5,-3.3],[18.6,-3.0],[17.2,-4.8],[18.6,-4.7],[19.9,-4.8],[12.0,-5.4],[13.4,-4.5],[13.9,-5.1],[12.5,-6.3],
  [13.6,-6.3],[14.5,-6.7],[14.3,-8.0],[9.0,-6.0],[7.9,-7.0],[7.6,-8.2],[8.7,-7.9],[9.8,-7.9],[7.3,-9.1],[23.5,-6.0],
  [22.1,-7.3],[20.7,-7.7],[16.9,-7.9],[18.6,-7.9],[19.4,-8.8],[5.4,-9.4],[4.1,-10.3],[3.2,-11.2],[4.6,-11.9],[1.9,-11.9],
  [1.9,-12.8],[12.0,-9.7],[11.2,-10.6],[12.8,-11.2],[13.9,-11.9],[10.1,-11.9],[9.3,-13.1],[10.6,-12.8],[16.6,-9.7],[16.4,-10.9],
  [16.1,-12.2],[16.9,-12.5],[19.1,-10.6],[20.0,-10.9],[18.8,-9.1],[19.9,-9.4],[22.4,-9.7],[23.8,-10.9],[24.8,-8.8],[24.6,-10.0],
  [26.8,-8.5],[26.5,-10.0],[29.5,-9.7],[29.2,-11.9],[30.9,-11.9],[32.5,-11.9],[27.3,-12.5],[25.9,-12.2],[24.6,-12.8],[6.3,-12.5],
  [7.9,-12.8],[6.5,-14.0],[9.0,-14.3],[12.0,-13.7],[13.1,-13.4],[14.2,-14.3],[15.3,-13.7],[16.4,-13.4],[16.1,-14.3],[12.8,-14.9],
  [14.7,-15.5],[19.1,-13.4],[20.2,-14.0],[21.6,-13.1],[22.4,-14.0],[21.0,-14.9],[22.1,-14.9],[20.2,-15.8],[21.3,-16.5],[19.9,-17.1],
  [20.7,-16.8],[24.6,-14.6],[24.3,-15.8],[25.7,-16.1],[26.5,-16.8],[27.6,-14.6],[28.4,-15.2],[29.5,-14.0],[30.6,-14.3],[29.5,-15.5],
  [30.6,-16.1],[29.0,-16.5],[31.1,-15.2],[32.0,-17.1],[33.0,-16.1],[33.6,-15.8],[34.4,-13.7],
  [1.3,-15.8],[1.1,-16.5],[-2.8,-17.1],[-1.7,-17.7],[-0.6,-18.3],[-5.0,-18.3],[-5.5,-19.8],[-5.0,-20.7],[0.5,-18.3],[0.8,-19.5],
  [0.2,-20.7],[-1.1,-20.1],[3.2,-19.2],[4.3,-20.1],[4.9,-17.1],[6.3,-16.8],[4.6,-18.6],[7.3,-15.8],[6.3,-18.9],[6.8,-20.4],
  [8.2,-20.1],[9.3,-18.0],[10.9,-19.2],[1.9,-21.4],[4.1,-22.0],[5.2,-22.3],[4.6,-21.1],[12.0,-17.4],[13.4,-17.4],[12.5,-19.5],
  [14.7,-18.6],[15.6,-18.3],[14.2,-20.7],[15.3,-20.4],[18.3,-19.4],[20.0,-22.0],[23.0,-18.0],[25.1,-18.9],[26.2,-19.5],[27.9,-17.7],
  [28.1,-19.2],[28.4,-20.1],[30.3,-19.2],[23.2,-20.4],[23.8,-20.1],[25.7,-21.4],[24.3,-22.6],[23.0,-22.9],[23.5,-24.1],[27.9,-22.6],
  [29.2,-21.7],[29.8,-22.3],[31.4,-21.4],[32.2,-21.7],
  [10.1,-22.0],[11.5,-22.6],[12.5,-23.2],[14.2,-22.9],[15.6,-22.9],[13.1,-24.1],[14.2,-24.4],[15.6,-24.1],[16.1,-24.7],[10.6,-23.8],
  [10.9,-25.0],[7.1,-23.5],[8.7,-23.5],[5.4,-24.7],[9.0,-24.7],[10.4,-25.6],[12.0,-25.9],[13.1,-26.3],[14.5,-25.9],[15.6,-26.3],
  [16.9,-27.2],
  [-2.5,-23.5],[-0.6,-24.1],[1.1,-23.8],[1.3,-25.0],[-4.1,-25.3],[-2.8,-25.3],[-1.7,-25.0],[-3.9,-26.6],[-2.2,-26.9],[-0.6,-26.3],
  [-4.7,-28.1],[-3.0,-28.1],[-1.7,-27.5],[-0.3,-28.1],[-3.3,-29.0],[-1.9,-29.3],[-3.0,-30.5],[-1.9,-30.2],[-3.9,-31.8],
  [3.5,-27.2],[4.3,-26.9],[5.7,-26.3],[6.3,-27.2],[1.6,-28.4],[6.5,-27.8],[8.2,-26.9],[8.4,-28.1],[9.5,-28.4],[10.4,-29.9],
  [12.5,-29.0],[13.1,-29.9],[14.5,-28.4],[16.1,-28.1],[17.5,-27.2],[18.6,-27.5],[20.2,-26.9],[19.9,-28.4],[16.1,-29.9],[13.6,-31.5],
  [3.8,-30.5],[5.2,-30.2],[6.3,-30.5],[7.4,-30.8],[5.4,-31.5],[6.8,-31.8],[0.8,-31.5],[2.2,-32.1],[5.7,-32.7],[6.8,-33.6],
  [21.8,-27.5],[23.5,-28.7],[24.3,-29.6],[24.8,-25.9],[25.4,-28.1],[27.9,-27.8],[29.2,-27.5],[30.6,-26.3],[28.4,-30.2],[29.5,-31.2],
  [27.6,-31.8],
  [20.2,-29.3],[19.6,-30.8],[18.8,-32.1],[18.6,-33.0],[23.0,-31.8],[22.7,-33.0],[21.8,-33.3],[25.9,-32.4],[27.9,-33.6],[27.3,-34.5],
  [10.6,-32.7],[10.9,-33.6],[9.5,-34.8],[10.1,-35.4],[8.7,-36.7],[12.5,-33.6],[13.1,-34.8],[14.5,-33.9],[14.2,-35.4],[16.1,-33.3],
  [16.6,-34.2],[17.5,-33.9],[15.8,-35.4],[17.2,-35.8],[18.0,-35.8],
  [19.1,-36.1],[20.2,-36.7],[20.5,-34.2],[21.3,-35.4],[22.1,-35.1],[21.8,-37.0],[23.2,-37.3],[24.0,-36.4],[24.6,-35.4],
  [12.5,-36.4],[13.6,-37.9],[15.3,-38.2],[16.4,-37.9],[17.5,-37.3],[18.6,-37.9],[19.9,-37.6],[21.0,-38.5],[20.5,-39.4],[16.4,-39.1],
  [10.4,-38.2],[11.2,-39.4],[9.5,-40.4],[10.9,-40.4],[13.1,-37.9],[15.0,-40.7],[16.6,-41.0],[19.6,-40.4],[22.1,-41.3],[21.3,-39.7],
  [8.7,-43.7],[13.4,-42.5],[12.5,-44.9],[13.1,-45.3],[15.6,-43.1],[16.1,-44.0],[16.6,-44.3],[14.7,-46.8],[16.1,-46.8],[17.7,-46.8],
  [18.0,-44.0],[19.1,-43.4],[20.2,-44.9],[20.7,-43.1],[21.3,-42.5],[18.3,-45.6],
  [-1.4,-33.9],[-1.1,-35.1],[0.0,-35.4],[0.8,-35.4],[1.6,-35.8],[3.0,-35.8],[4.6,-35.8],[0.0,-36.7],[0.8,-37.3],[2.7,-37.9],
  [3.5,-38.5],[4.3,-39.7],[5.2,-40.7],[6.3,-41.6],[7.4,-41.9],[1.9,-38.8],[7.1,-38.2],[9.0,-44.3]
];

const cluster6 = [
  [43.5,-12.2],[44.1,-12.9],[36.4,-14.9],[41.2,-13.7],[41.5,-14.9],[41.9,-15.8],[38.6,-16.5],[40.6,-16.8],[42.2,-17.7],[37.3,-18.3],
  [39.6,-18.6],[38.3,-19.5],[39.6,-19.8],[41.5,-19.5],[38.9,-20.7],
  [47.7,-18.0],[49.3,-17.4],[50.6,-17.2],[51.9,-17.1],[53.8,-16.8],[54.5,-17.7],[49.0,-19.2],[52.9,-18.9],[55.1,-18.9],[52.5,-18.0],
  [43.5,-25.0],[44.8,-25.2],[46.1,-24.4],
  [31.8,-25.3],[33.1,-27.2],[34.4,-27.5],[35.4,-26.9],[36.4,-26.6],[37.3,-27.2],[38.6,-26.3],[38.9,-27.2],[36.0,-28.4],[33.8,-29.0],
  [31.8,-28.7],[30.5,-29.6],[29.9,-30.5],[32.8,-30.5],[33.8,-30.9],
  [36.4,-30.9],[37.3,-32.1],[38.9,-30.2],[41.2,-29.6],[42.5,-31.2],[39.9,-31.8],[41.5,-32.4],[38.9,-33.0],[37.3,-33.6],[42.5,-32.7],
  [30.2,-31.2],[29.6,-32.7],[28.6,-34.5],[29.3,-36.1],[31.8,-32.4],[31.5,-33.9],[31.2,-36.7],[32.2,-32.4],
  [35.1,-35.4],[34.4,-37.0],[36.4,-36.7],[37.7,-35.8],[38.9,-35.4],[40.3,-35.4],[40.9,-36.7],[39.6,-37.6],[38.3,-37.0],[36.7,-37.6],
  [37.3,-38.5],[38.9,-38.8],[41.2,-36.4],
  [44.1,-35.4],[45.4,-35.1],[46.7,-34.8],[47.7,-34.8],[45.1,-33.3],[49.3,-33.9],[51.6,-32.4],[51.9,-33.6],[53.2,-34.8],[53.8,-34.2],
  [47.4,-31.8],
  [30.2,-39.7],[28.0,-40.7],[31.8,-40.0],[33.1,-40.7],[34.4,-39.4],[35.7,-39.4],[33.8,-41.6],[35.1,-42.2],[36.0,-41.3],[37.0,-40.4],
  [37.7,-41.6],[28.6,-41.6],[25.1,-42.2],
  [26.7,-43.4],[27.3,-43.7],[30.5,-43.1],[31.2,-44.3],[32.8,-43.7],[34.1,-42.8],[35.4,-43.4],[36.7,-43.1],[38.9,-42.2],[39.6,-43.4],
  [38.9,-44.6],[41.2,-44.3],[38.0,-45.6],
  [28.3,-45.9],[29.9,-46.5],[31.2,-45.9],[32.8,-46.2],[34.4,-45.9],[35.7,-46.5],[37.3,-46.8],[39.6,-47.1],[41.5,-46.5],[23.8,-46.5],
  [28.3,-47.4],
  [25.4,-48.9],[26.3,-49.5],[27.6,-49.5],[29.9,-48.9],[30.9,-49.9],[32.5,-48.3],[34.8,-48.6],[35.1,-49.5],[37.7,-48.6],[40.3,-48.3],
  [23.1,-50.8],
  [35.1,-52.0],[36.4,-52.3],[37.3,-52.0],[35.4,-55.1],[36.0,-55.1],[41.9,-50.8],
  [44.8,-42.2],[46.1,-43.4],[47.0,-41.9],[48.3,-41.9],[49.6,-42.2],[49.9,-43.4],[46.4,-44.6],[47.7,-44.6],[48.7,-45.9],[47.4,-46.5],
  [45.8,-46.8],[46.7,-47.7],[48.0,-47.7],[48.7,-47.1],
  [48.7,-49.5],[49.3,-50.5],[48.3,-51.7],[47.0,-51.1],[44.5,-50.8],[43.8,-51.4],[45.1,-50.5],[42.2,-50.8],[47.7,-54.1],[48.0,-53.5],
  [57.1,-29.3],[57.7,-31.5],[63.5,-30.5],[62.9,-31.2],
  [58.4,-34.2],[59.7,-33.9],[61.0,-33.6],[62.2,-33.6],[63.2,-33.9],[64.5,-34.5],[66.1,-34.8],[67.4,-34.5],[68.7,-34.2],[69.7,-34.2],
  [70.7,-35.4],
  [55.8,-36.1],[57.1,-35.8],[58.4,-35.4],[59.7,-35.4],[61.0,-35.8],[62.2,-35.4],[63.5,-36.1],[64.8,-35.4],[66.8,-36.1],[68.1,-35.8],
  [69.4,-36.4],[70.3,-36.7],
  [55.5,-37.6],[56.8,-37.3],[58.0,-37.6],[59.3,-37.3],[60.6,-37.6],[61.9,-37.3],[63.2,-37.9],[64.5,-37.6],[65.5,-37.3],[67.7,-37.6],
  [69.0,-37.0],
  [56.4,-39.4],[57.7,-39.1],[59.0,-39.7],[60.6,-39.4],[62.6,-39.4],[63.9,-39.1],[65.2,-38.8],[55.5,-41.3],[57.1,-40.4],[59.7,-41.3],
  [61.0,-40.4],[62.2,-41.3],[63.5,-41.0],[65.2,-40.0],
  [61.0,-43.1],[62.6,-44.0],[64.2,-42.8],[65.5,-41.3],[59.7,-41.9],[61.9,-42.5],
  [34.4,-26.9],[30.6,-29.3],[33.3,-30.5],[29.2,-33.0],[28.4,-34.8],[29.0,-36.1],[31.7,-33.6],[35.0,-35.4],[34.1,-37.0]
];

const cluster7 = [
  [-52.9,22.3],[-51.7,23.4],[-51.0,25.8],[-49.7,24.0],[-49.2,26.1],[-48.7,25.2],[-47.7,28.3],[-47.1,24.6],[-46.6,26.4],[-45.4,27.4],
  [-44.6,26.8],[-43.3,25.2],[-42.3,27.4],
  [-52.0,21.9],[-51.0,21.2],[-51.2,20.3],[-50.2,19.4],[-49.7,18.5],[-48.9,18.2],[-47.9,19.1],[-46.9,18.2],[-46.1,18.8],[-45.6,21.1],
  [-48.2,16.9],[-47.9,15.7],[-46.6,16.3],[-45.4,17.6],[-44.3,17.9],[-44.6,16.3],[-43.8,16.0],[-43.1,15.1],[-42.0,15.4],[-41.3,13.6],
  [-49.4,13.3],[-48.4,12.7],[-47.4,13.0],[-44.9,11.4],[-41.3,11.4],
  [-41.5,23.7],[-41.8,22.2],[-42.0,20.9],[-40.0,21.9],
  [-40.0,25.5],[-39.5,27.7],[-38.5,29.2],[-36.7,31.7],[-35.4,33.8],[-33.1,34.7],[-32.4,33.5],[-32.1,32.6],[-33.4,30.7],[-33.9,28.9],
  [-34.9,27.7],
  [-36.4,26.4],[-37.5,25.2],[-38.0,23.4],[-37.7,21.9],[-36.9,21.5],[-39.0,20.6],[-38.2,20.0],[-40.3,21.9],
  [-38.5,18.8],[-37.0,19.1],[-36.7,17.9],[-35.7,18.2],[-34.9,20.3],[-33.9,19.4],[-33.4,24.0],[-33.9,24.9],[-32.6,23.4],[-31.6,22.5],
  [-32.9,21.9],
  [-40.3,18.2],[-40.0,16.6],[-39.2,16.3],[-38.5,15.4],[-37.7,15.7],[-36.7,16.3],[-35.7,16.6],[-34.9,15.1],[-38.0,13.9],[-37.5,13.3],
  [-35.7,13.6],[-34.6,13.3],
  [-31.8,30.4],[-30.8,28.9],[-30.3,31.6],[-29.8,29.2],[-28.8,29.8],[-27.5,28.6],[-31.3,26.1],[-30.3,25.2],[-29.3,24.6],[-28.5,23.4],
  [-27.5,22.5],[-26.5,24.3],[-25.5,25.2],[-24.7,24.3],
  [-30.1,23.1],[-29.0,21.5],[-29.8,20.3],[-28.5,20.6],[-27.5,19.7],[-26.7,21.5],[-26.0,20.6],[-26.5,19.1],[-26.7,17.9],[-28.8,19.1],
  [-30.8,17.6],[-30.3,16.3],[-29.3,16.3],[-28.3,15.7],[-31.1,15.7],
  [-27.5,32.0],[-26.5,32.9],[-25.7,31.0],[-24.7,30.1],[-24.2,28.6],[-23.2,29.5],[-22.1,28.9],[-21.6,27.4],[-23.2,26.8],[-22.7,24.9],
  [-23.7,33.8],[-20.1,27.1],[-18.1,22.5],
  [-32.0,6.5],[-39.2,1.3],[-37.2,-0.4],[-34.9,-0.5],[-33.1,-1.1],[-30.3,0.1],[-33.6,-3.0],[-32.6,-2.4],[-43.3,-6.1],[-41.1,-6.1],
  [-32.8,-3.3],[-33.4,-5.4]
];

// compounds marked as screened
const screened = [
  [-3.6,88.3],[-31.2,76.7],
  [-34.9,32.4],[-36.0,29.5],[-38.3,26.9],[-28.3,26.6],[-44.5,23.3],[-47.6,21.5],[-32.1,18.6],[-32.9,16.7],[-43.6,14.3],[-45.7,12.7],
  [-45.1,-29.4],[-23.6,-34.0],[-24.2,-36.0],[-36.6,-46.2],[-37.5,-50.5],[-38.0,-54.6],[-27.6,-53.9]
];

const clusters = [cluster0, cluster1, cluster2, cluster3, cluster4, cluster5, cluster6, cluster7];
const palette = ['#66c2a5', '#fc8d62', '#8da0cb', '#e78ac3', '#a6d854', '#ffd92f', '#e5c494', '#b3b3b3'];

function toPoints(list) {
    return list.map(p => ({ x: p[0], y: p[1] }));
}

const datasets = clusters.map((pts, i) => ({
    label: clusterNames[i],
    data: toPoints(pts),
    backgroundColor: palette[i],
    borderColor: 'rgba(255,255,255,0.7)',
    borderWidth: 1.1,
    pointRadius: 9.6,
    order: i + 1
}));
datasets.push({
    label: 'Screened',
    data: toPoints(screened),
    backgroundColor: '#ff0000',
    borderWidth: 0,
    pointRadius: 14,
    order: 0
});

function tickText(v) {
    return v < 0 ? '\u2212' + Math.abs(v) : String(v);
}

// legend box (two columns of clusters, rule, screened marker) and outer frame
const legendBox = {
    id: 'legendBox',
    afterDraw(chart) {
        const ctx = chart.ctx;
        ctx.save();
        ctx.fillStyle = '#000';
        ctx.textAlign = 'left';
        ctx.textBaseline = 'alphabetic';
        ctx.font = '60px "Liberation Sans", Arial, sans-serif';
        ctx.fillText('K-means clusters', 1751, 108);

        const markerY = [210, 301, 392, 483];
        const textY = [224, 316, 407, 498];
        ctx.font = '63px "DejaVu Sans"';
        ctx.textAlign = 'center';
        clusterNames.forEach((name, i) => {
            const col = Math.floor(i / 4);
            const row = i % 4;
            ctx.beginPath();
            ctx.arc(col ? 2108 : 1765, markerY[row], 14, 0, Math.PI * 2);
            ctx.fillStyle = palette[i];
            ctx.fill();
            ctx.fillStyle = '#111';
            ctx.fillText(name, col ? 2241 : 1898, textY[row]);
        });

        ctx.strokeStyle = '#000';
        ctx.lineWidth = 3;
        ctx.beginPath();
        ctx.moveTo(1775, 652);
        ctx.lineTo(2258, 652);
        ctx.stroke();

        ctx.beginPath();
        ctx.arc(1884, 745, 14.5, 0, Math.PI * 2);
        ctx.fillStyle = '#ff0000';
        ctx.fill();
        ctx.fillStyle = '#000';
        ctx.textAlign = 'left';
        ctx.font = '59px "Liberation Sans", Arial, sans-serif';
        ctx.fillText('Screened', 1937, 762);

        ctx.strokeStyle = '#444';
        ctx.lineWidth = 5;
        ctx.strokeRect(2.5, 2.5, chart.width - 5, chart.height - 5);
        ctx.restore();
    }
};

const axisFont = { family: '"DejaVu Sans", sans-serif', size: 69 };
const titleFont = { family: '"Liberation Sans", Arial, sans-serif', size: 106, weight: 'bold', lineHeight: 1 };

const ctx = document.getElementById('tsneChart').getContext('2d');
new Chart(ctx, {
    type: 'scatter',
    data: { datasets: datasets },
    plugins: [legendBox],
    options: {
        responsive: false,
        animation: false,
        devicePixelRatio: 1,
        layout: { padding: { left: 0, top: 122, right: 102, bottom: 0 } },
        plugins: {
            legend: { display: false },
            tooltip: { enabled: false }
        },
        scales: {
            x: {
                type: 'linear',
                min: xLimits[0],
                max: xLimits[1],
                afterBuildTicks: scale => { scale.ticks = xTicks.map(v => ({ value: v })); },
                afterFit: scale => { scale.height = 289; },
                ticks: { font: axisFont, color: '#111', padding: 3, autoSkip: false, maxRotation: 0, callback: tickText },
                grid: { display: true, drawOnChartArea: false, drawTicks: true, tickLength: 15, tickWidth: 3, tickColor: '#262626' },
                border: { display: true, width: 5, color: '#3a3a3a' },
                title: { display: true, text: 'tSNE 1', color: '#000', font: titleFont, padding: { top: 0, bottom: 74 } }
            },
            y: {
                type: 'linear',
                min: yLimits[0],
                max: yLimits[1],
                afterBuildTicks: scale => { scale.ticks = yTicks.map(v => ({ value: v })); },
                afterFit: scale => { scale.width = 412; },
                ticks: { font: axisFont, color: '#111', padding: 19, autoSkip: false, callback: tickText },
                grid: { display: true, drawOnChartArea: false, drawTicks: true, tickLength: 15, tickWidth: 3, tickColor: '#262626' },
                border: { display: true, width: 5, color: '#3a3a3a' },
                title: { display: true, text: 'tSNE 2', color: '#000', font: titleFont, padding: { top: 108, bottom: 0 } }
            }
        }
    }
});
</script>
</body>
</html>
